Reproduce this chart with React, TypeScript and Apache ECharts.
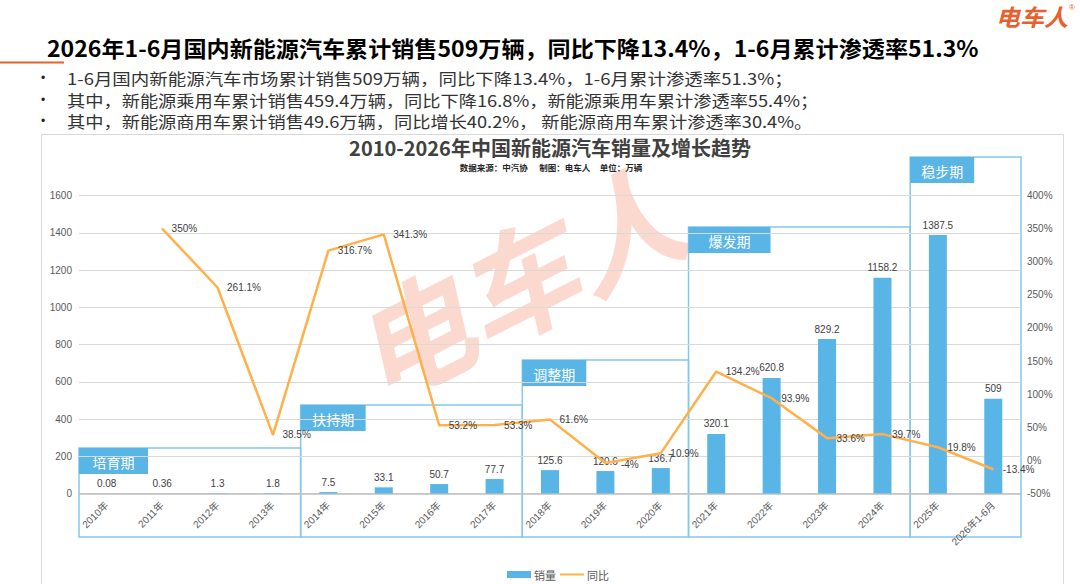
import React, { useEffect, useRef } from "react";
import * as echarts from "echarts";

const categories = [
  "2010年", "2011年", "2012年", "2013年", "2014年", "2015年", "2016年", "2017年",
  "2018年", "2019年", "2020年", "2021年", "2022年", "2023年", "2024年", "2025年", "2026年1-6月",
];
const sales = [0.08, 0.36, 1.3, 1.8, 7.5, 33.1, 50.7, 77.7, 125.6, 120.6, 136.7, 320.1, 620.8, 829.2, 1158.2, 1387.5, 509];
const yoy = [null, 350, 261.1, 38.5, 316.7, 341.3, 53.2, 53.3, 61.6, -4, 10.9, 134.2, 93.9, 33.6, 39.7, 19.8, -13.4];

const periodNames = ["培育期", "扶持期", "调整期", "爆发期", "稳步期"];
const periodStart = [0, 4, 8, 11, 15];
const periodEnd = [4, 8, 11, 15, 17];

const headline = "2026年1-6月国内新能源汽车累计销售509万辆，同比下降13.4%，1-6月累计渗透率51.3%";
const bullets = [
  "1-6月国内新能源汽车市场累计销售509万辆，同比下降13.4%，1-6月累计渗透率51.3%；",
  "其中，新能源乘用车累计销售459.4万辆，同比下降16.8%，新能源乘用车累计渗透率55.4%；",
  "其中，新能源商用车累计销售49.6万辆，同比增长40.2%， 新能源商用车累计渗透率30.4%。",
];
const chartTitle = "2010-2026年中国新能源汽车销量及增长趋势";
const chartSub = "数据来源：中汽协      制图：电车人     单位：万辆";

const CJK = "'Noto Sans CJK SC', sans-serif";
const NUM = "'Liberation Sans', 'Noto Sans CJK SC', sans-serif";

// layout
const W = 1080;
const H = 584;
const gridLeft = 79;
const gridRight = 1021;
const gridTop = 195.5;
const gridBottom = 493.5;
const periodTop = [448, 405, 360, 227, 157];
const periodTabW = [69, 65, 64, 82, 64];
const boxBottom = 537;
const tabH = 26;
// small label nudges (index -> [dx, dy]) so touching labels stay legible
const lineLabelNudge: Record<number, number[]> = { 9: [6, 1] };

export default function App() {
  const ref = useRef<HTMLDivElement>(null);

  useEffect(() => {
    if (!ref.current) return;
    const chart = echarts.init(ref.current, undefined, { renderer: "svg" });
    const catW = (gridRight - gridLeft) / categories.length;

    const graphics: any[] = [];

    // panel frame
    graphics.push({
      type: "rect",
      z: -20,
      shape: { x: 41.5, y: 134.5, width: 1022, height: 480 },
      style: { fill: "#fff", stroke: "#d9d9d9", lineWidth: 1 },
    });

    // logo
    graphics.push({
      type: "text",
      x: 1032,
      y: 16,
      scaleX: 1.05,
      style: {
        text: "电车人",
        fontSize: 23,
        fontWeight: "bold",
        fontStyle: "italic",
        fontFamily: CJK,
        fill: "#e8612c",
        align: "center",
        verticalAlign: "middle",
      },
    });
    graphics.push({
      type: "text",
      x: 1072,
      y: 7,
      style: { text: "®", fontSize: 8, fontFamily: NUM, fill: "#e8612c", align: "center", verticalAlign: "middle" },
    });

    // headline
    graphics.push({
      type: "text",
      x: 47,
      y: 47,
      scaleX: 1.05,
      style: {
        text: headline,
        fontSize: 22,
        fontWeight: "bold",
        fontFamily: CJK,
        fill: "#000",
        align: "left",
        verticalAlign: "middle",
      },
    });
    graphics.push({
      type: "line",
      shape: { x1: 0, y1: 62.5, x2: 64, y2: 62.5 },
      style: { stroke: "#e8612c", lineWidth: 2 },
    });
    graphics.push({
      type: "line",
      shape: { x1: 64, y1: 63, x2: W, y2: 63 },
      style: {
        stroke: new echarts.graphic.LinearGradient(0, 0, 1, 0, [
          { offset: 0, color: "#f19a76" },
          { offset: 1, color: "#fbe4da" },
        ]),
        lineWidth: 1,
      },
    });

    // bullets
    const bulletY = [78, 100, 121];
    bullets.forEach((t, i) => {
      graphics.push({
        type: "text",
        x: 43,
        y: bulletY[i],
        style: { text: "•", fontSize: 12, fontFamily: NUM, fill: "#222", align: "center", verticalAlign: "middle" },
      });
      graphics.push({
        type: "text",
        x: 67,
        y: bulletY[i],
        scaleX: i === 0 ? 1.155 : 1.14,
        style: { text: t, fontSize: 16, lineHeight: 16, fontFamily: CJK, fill: "#333", align: "left", verticalAlign: "middle" },
      });
    });

    // chart title
    graphics.push({
      type: "text",
      x: 550,
      y: 147,
      style: {
        text: chartTitle,
        fontSize: 20,
        lineHeight: 20,
        fontWeight: "bold",
        fontFamily: CJK,
        fill: "#404040",
        align: "center",
        verticalAlign: "middle",
      },
    });
    graphics.push({
      type: "text",
      x: 551,
      y: 167,
      style: {
        text: chartSub,
        fontSize: 8.5,
        lineHeight: 9,
        fontWeight: "bold",
        fontFamily: CJK,
        fill: "#262626",
        align: "center",
        verticalAlign: "middle",
      },
    });

    // watermark
    graphics.push({
      type: "text",
      z: -5,
      x: 514,
      y: 279,
      rotation: (27 * Math.PI) / 180,
      style: {
        text: "电车人",
        fontSize: 118,
        fontWeight: "bold",
        fontStyle: "italic",
        fontFamily: CJK,
        fill: "rgba(238, 110, 70, 0.26)",
        align: "center",
        verticalAlign: "middle",
      },
    });

    // period boxes
    periodNames.forEach((name, i) => {
      const x0 = gridLeft + periodStart[i] * catW;
      const x1 = gridLeft + periodEnd[i] * catW;
      const top = periodTop[i];
      graphics.push({
        type: "rect",
        z: -2,
        shape: { x: x0, y: top, width: x1 - x0, height: boxBottom - top },
        style: { fill: "none", stroke: "#86c7ea", lineWidth: 1.5 },
      });
      graphics.push({
        type: "rect",
        z: -1,
        shape: { x: x0, y: top, width: periodTabW[i], height: tabH },
        style: { fill: "#58b5e5" },
      });
      graphics.push({
        type: "text",
        z: -1,
        x: x0 + periodTabW[i] / 2,
        y: top + tabH / 2 + 1,
        style: {
          text: name,
          fontSize: 14,
          fontFamily: CJK,
          fill: "#fff",
          align: "center",
          verticalAlign: "middle",
        },
      });
    });

    const lineData = yoy.map((v, i) =>
      lineLabelNudge[i] ? { value: v, label: { offset: lineLabelNudge[i] } } : v
    );

    chart.setOption({
      animation: false,
      backgroundColor: "#fff",
      grid: {
        left: gridLeft,
        right: W - gridRight,
        top: gridTop,
        bottom: H - gridBottom,
        containLabel: false,
      },
      legend: {
        left: 502,
        top: 564,
        itemWidth: 24,
        itemHeight: 7,
        itemGap: 3,
        textStyle: { fontSize: 11, color: "#595959", fontFamily: CJK, padding: [0, 0, 0, -2] },
        data: [
          { name: "销量", icon: "rect" },
          { name: "同比", itemStyle: { opacity: 0 } },
        ],
      },
      xAxis: {
        type: "category",
        data: categories,
        axisLine: { lineStyle: { color: "#bfbfbf", width: 1.5 } },
        axisTick: { show: false },
        axisLabel: {
          rotate: 45,
          interval: 0,
          fontSize: 10,
          color: "#595959",
          fontFamily: NUM,
          margin: 10,
        },
      },
      yAxis: [
        {
          type: "value",
          min: 0,
          max: 1600,
          interval: 200,
          axisLine: { show: false },
          axisTick: { show: false },
          splitLine: { lineStyle: { color: "#d9d9d9", width: 1 } },
          axisLabel: {
            fontSize: 10,
            color: "#595959",
            fontFamily: NUM,
            margin: 7,
            formatter: (v: number) => String(v),
          },
        },
        {
          type: "value",
          min: -50,
          max: 400,
          interval: 50,
          axisLine: { show: false },
          axisTick: { show: false },
          splitLine: { show: false },
          axisLabel: { fontSize: 10, color: "#595959", fontFamily: NUM, margin: 6, formatter: "{value}%" },
        },
      ],
      series: [
        {
          name: "销量",
          type: "bar",
          data: sales,
          barWidth: 18,
          itemStyle: { color: "#58b5e5" },
          label: {
            show: true,
            position: "top",
            distance: 5,
            fontSize: 10,
            color: "#404040",
            fontFamily: NUM,
          },
          z: 2,
        },
        {
          name: "同比",
          type: "line",
          yAxisIndex: 1,
          data: lineData,
          symbol: "circle",
          symbolSize: 1,
          showSymbol: true,
          connectNulls: false,
          lineStyle: { color: "#ffb04a", width: 2.5 },
          itemStyle: { color: "#ffb04a" },
          label: {
            show: true,
            position: "right",
            distance: 9,
            fontSize: 10,
            color: "#404040",
            fontFamily: NUM,
            formatter: (p: any) => (p.value == null ? "" : `${p.value}%`),
          },
          z: 3,
        },
      ],
      graphic: graphics,
    });

    return () => chart.dispose();
  }, []);

  return (
    <div
      ref={ref}
      style={{ position: "fixed", left: 0, top: 0, width: W, height: H, background: "#fff" }}
    />
  );
}
